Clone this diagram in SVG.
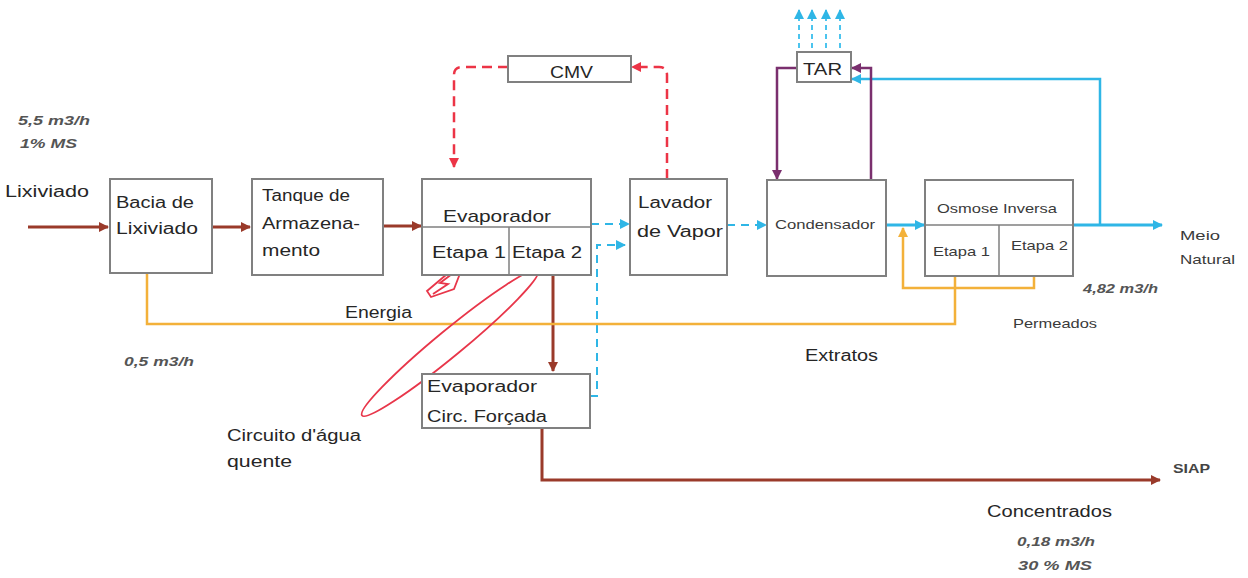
<svg xmlns="http://www.w3.org/2000/svg" width="1248" height="578" viewBox="0 0 1248 578">
<style>
.box{fill:#fff;stroke:#808080;stroke-width:2}
.div{fill:none;stroke:#808080;stroke-width:1.5}
.t{font-family:"Liberation Sans",Arial,sans-serif;font-size:16px;fill:#262626}
.s{font-family:"Liberation Sans",Arial,sans-serif;font-size:13px;fill:#3a3a3a}
.n{font-family:"Liberation Sans",Arial,sans-serif;font-size:12px;font-weight:bold;font-style:italic;fill:#555}
.brown{fill:none;stroke:#9a3a2a;stroke-width:3}
.cyan{fill:none;stroke:#2fb6e6;stroke-width:3}
.cyand{fill:none;stroke:#2fb6e6;stroke-width:2;stroke-dasharray:8 6}
.cyanu{fill:none;stroke:#4cc4ee;stroke-width:2;stroke-dasharray:5 4}
.orange{fill:none;stroke:#f3b13a;stroke-width:2.5}
.purple{fill:none;stroke:#7a2f6e;stroke-width:2.5}
.redd{fill:none;stroke:#ec3446;stroke-width:2.5;stroke-dasharray:10 6}
.red{fill:none;stroke:#e8364a;stroke-width:1.8}
</style>
<defs>
<marker id="ab" markerUnits="userSpaceOnUse" markerWidth="12" markerHeight="12" refX="9" refY="5" orient="auto"><path d="M0,0 L10,5 L0,10 Z" fill="#9a3a2a"/></marker>
<marker id="ac" markerUnits="userSpaceOnUse" markerWidth="12" markerHeight="12" refX="9" refY="5" orient="auto"><path d="M0,0 L10,5 L0,10 Z" fill="#2fb6e6"/></marker>
<marker id="ao" markerUnits="userSpaceOnUse" markerWidth="12" markerHeight="12" refX="9" refY="5" orient="auto"><path d="M0,0 L10,5 L0,10 Z" fill="#f3b13a"/></marker>
<marker id="ap" markerUnits="userSpaceOnUse" markerWidth="12" markerHeight="12" refX="9" refY="5" orient="auto"><path d="M0,0 L10,5 L0,10 Z" fill="#7a2f6e"/></marker>
<marker id="ar" markerUnits="userSpaceOnUse" markerWidth="12" markerHeight="12" refX="9" refY="5" orient="auto"><path d="M0,0 L10,5 L0,10 Z" fill="#ec3446"/></marker>
</defs>
<rect width="1248" height="578" fill="#fff"/>

<g id="connectors">
<path class="brown" d="M28,227 H108" marker-end="url(#ab)"/>
<path class="brown" d="M212,227 H250" marker-end="url(#ab)"/>
<path class="brown" d="M383,226 H421" marker-end="url(#ab)"/>
<path class="brown" d="M489,266 H524" marker-end="url(#ab)" style="stroke-width:2.5"/>
<path class="brown" d="M553,275 V371" marker-end="url(#ab)"/>
<path class="brown" d="M542,428 V480 H1160" marker-end="url(#ab)"/>
<path class="cyand" d="M591,224 H629" marker-end="url(#ac)"/>
<path class="cyand" d="M590,396 H597 V245 H625" marker-end="url(#ac)"/>
<path class="cyand" d="M727,225 H766" marker-end="url(#ac)"/>
<path class="cyan" d="M886,225 H924" marker-end="url(#ac)"/>
<path class="cyan" d="M1073,225 H1162" marker-end="url(#ac)"/>
<path class="cyan" d="M1100,225 V79 H852" marker-end="url(#ac)" style="stroke-width:2.5"/>
<path class="cyan" d="M984,265 H1014" marker-end="url(#ac)" style="stroke-width:2.5"/>
<path class="cyanu" d="M799,48 V10" marker-end="url(#ac)"/>
<path class="cyanu" d="M812,48 V10" marker-end="url(#ac)"/>
<path class="cyanu" d="M826,48 V10" marker-end="url(#ac)"/>
<path class="cyanu" d="M840,48 V10" marker-end="url(#ac)"/>
<path class="purple" d="M797,68 H777 V179" marker-end="url(#ap)"/>
<path class="purple" d="M871,180 V68 H852" marker-end="url(#ap)"/>
<path class="redd" d="M508,67 H462 Q454,67 454,75 V167" marker-end="url(#ar)"/>
<path class="redd" d="M667,179 V75 Q667,67 659,67 H632" marker-end="url(#ar)"/>
<path class="orange" d="M147,273 V324 H955 V276"/>
<path class="orange" d="M1034,276 V288 H903 V228" marker-end="url(#ao)"/>
<ellipse class="red" cx="450" cy="343" rx="114" ry="13" transform="rotate(-39.5 450 343)"/>
<path class="red" d="M466,258 L427,291 L431,297 L454,289 Z M460,268 L440,283 L448,284 L433,294"/>
</g>

<g id="node-bacia">
<rect class="box" x="110" y="179" width="102" height="94"/>
<text class="t" x="116" y="208" textLength="78" lengthAdjust="spacingAndGlyphs">Bacia de</text>
<text class="t" x="116" y="234" textLength="82" lengthAdjust="spacingAndGlyphs">Lixiviado</text>
</g>
<g id="node-tanque">
<rect class="box" x="252" y="179" width="131" height="96"/>
<text class="t" x="262" y="201" textLength="88" lengthAdjust="spacingAndGlyphs">Tanque de</text>
<text class="t" x="262" y="229" textLength="98" lengthAdjust="spacingAndGlyphs">Armazena-</text>
<text class="t" x="262" y="256" textLength="58" lengthAdjust="spacingAndGlyphs">mento</text>
</g>
<g id="node-evaporador">
<rect class="box" x="422" y="179" width="169" height="96"/>
<path class="div" d="M422,227 H591 M509,227 V275"/>
<text class="t" x="443" y="222" textLength="108" lengthAdjust="spacingAndGlyphs" style="font-size:17px">Evaporador</text>
<text class="t" x="432" y="258" textLength="74" lengthAdjust="spacingAndGlyphs">Etapa 1</text>
<text class="t" x="512" y="258" textLength="70" lengthAdjust="spacingAndGlyphs">Etapa 2</text>
</g>
<g id="node-lavador">
<rect class="box" x="630" y="179" width="97" height="96"/>
<text class="t" x="638" y="208" textLength="74" lengthAdjust="spacingAndGlyphs">Lavador</text>
<text class="t" x="637" y="237" textLength="86" lengthAdjust="spacingAndGlyphs">de Vapor</text>
</g>
<g id="node-cmv">
<rect class="box" x="508" y="56" width="123" height="26"/>
<text class="t" x="550" y="78" textLength="43" lengthAdjust="spacingAndGlyphs">CMV</text>
</g>
<g id="node-condensador">
<rect class="box" x="767" y="180" width="119" height="96"/>
<text class="s" x="775" y="229" textLength="100" lengthAdjust="spacingAndGlyphs">Condensador</text>
</g>
<g id="node-osmose">
<rect class="box" x="925" y="180" width="148" height="96"/>
<path class="div" d="M925,225 H1073 M999,225 V276"/>
<text class="s" x="937" y="213" textLength="120" lengthAdjust="spacingAndGlyphs">Osmose Inversa</text>
<text class="s" x="933" y="256" textLength="57" lengthAdjust="spacingAndGlyphs">Etapa 1</text>
<text class="s" x="1011" y="250" textLength="57" lengthAdjust="spacingAndGlyphs">Etapa 2</text>
</g>
<g id="node-tar">
<rect class="box" x="797" y="52" width="54" height="30"/>
<text class="t" x="803" y="75" textLength="39" lengthAdjust="spacingAndGlyphs">TAR</text>
</g>
<g id="node-evap-circ">
<rect class="box" x="422" y="374" width="168" height="54"/>
<text class="t" x="427" y="392" textLength="110" lengthAdjust="spacingAndGlyphs">Evaporador</text>
<text class="t" x="427" y="422" textLength="120" lengthAdjust="spacingAndGlyphs">Circ. Forçada</text>
</g>

<g id="labels">
<text class="n" x="18" y="125" textLength="72" lengthAdjust="spacingAndGlyphs">5,5 m3/h</text>
<text class="n" x="20" y="148" textLength="57" lengthAdjust="spacingAndGlyphs">1% MS</text>
<text class="t" x="5" y="197" textLength="84" lengthAdjust="spacingAndGlyphs">Lixiviado</text>
<text class="t" x="345" y="318" textLength="67" lengthAdjust="spacingAndGlyphs">Energia</text>
<text class="n" x="124" y="366" textLength="70" lengthAdjust="spacingAndGlyphs">0,5 m3/h</text>
<text class="t" x="227" y="441" textLength="134" lengthAdjust="spacingAndGlyphs">Circuito d'água</text>
<text class="t" x="227" y="467" textLength="65" lengthAdjust="spacingAndGlyphs">quente</text>
<text class="t" x="805" y="361" textLength="73" lengthAdjust="spacingAndGlyphs">Extratos</text>
<text class="n" x="1083" y="293" textLength="75" lengthAdjust="spacingAndGlyphs">4,82 m3/h</text>
<text class="s" x="1013" y="328" textLength="84" lengthAdjust="spacingAndGlyphs">Permeados</text>
<text class="s" x="1180" y="240" textLength="40" lengthAdjust="spacingAndGlyphs">Meio</text>
<text class="s" x="1180" y="264" textLength="55" lengthAdjust="spacingAndGlyphs">Natural</text>
<text class="s" x="1173" y="473" textLength="37" lengthAdjust="spacingAndGlyphs" style="font-weight:bold;fill:#444">SIAP</text>
<text class="t" x="987" y="517" textLength="125" lengthAdjust="spacingAndGlyphs">Concentrados</text>
<text class="n" x="1017" y="546" textLength="78" lengthAdjust="spacingAndGlyphs">0,18 m3/h</text>
<text class="n" x="1018" y="570" textLength="74" lengthAdjust="spacingAndGlyphs">30 % MS</text>
</g>
</svg>
